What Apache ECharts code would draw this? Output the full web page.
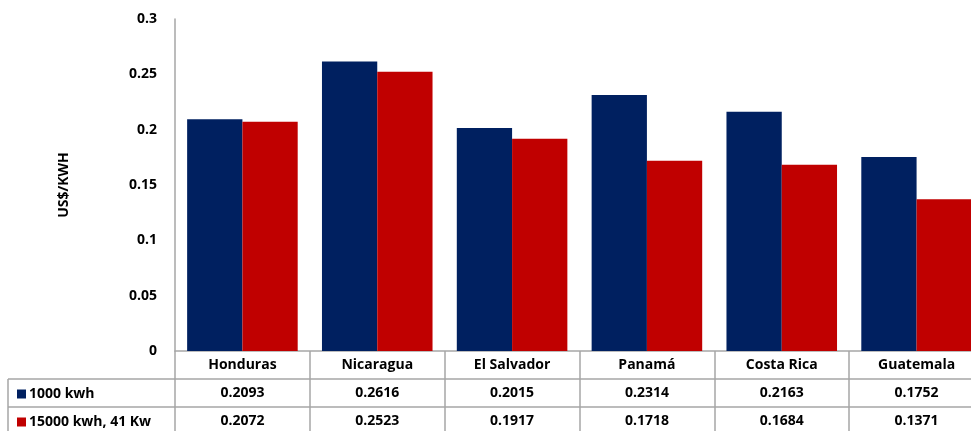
<!DOCTYPE html>
<html>
<head>
<meta charset="utf-8">
<script src="https://cdn.jsdelivr.net/npm/echarts@6/dist/echarts.min.js"></script>
<style>
html,body{margin:0;padding:0;background:#fff;}
#chart{width:971px;height:431px;}
</style>
</head>
<body>
<div id="chart"></div>
<script>
const categories = ['Honduras', 'Nicaragua', 'El Salvador', 'Panamá', 'Costa Rica', 'Guatemala'];
const seriesNames = ['1000 kwh', '15000 kwh, 41 Kw'];
const values1000 = [0.2093, 0.2616, 0.2015, 0.2314, 0.2163, 0.1752];
const values15000 = [0.2072, 0.2523, 0.1917, 0.1718, 0.1684, 0.1371];
const yTicks = { min: 0, max: 0.3, interval: 0.05 };

const FONT = 'Open Sans';
const GRID = '#a6a6a6';
const chart = echarts.init(document.getElementById('chart'));
const labelStyle = { color: '#000', fontFamily: FONT, fontWeight: 'bold', fontSize: 14 };

function legendFor(name, top) {
  return {
    orient: 'horizontal', left: 17, top: top, padding: 0,
    itemWidth: 9, itemHeight: 9, icon: 'rect',
    textStyle: Object.assign({}, labelStyle, { padding: [0, 0, 0, -2] }),
    data: [name]
  };
}

chart.setOption({
  animation: false,
  textStyle: { fontFamily: FONT },
  grid: { left: 175, width: 809, top: 19, bottom: 80, containLabel: false, outerBoundsMode: 'none' },
  legend: [legendFor(seriesNames[0], 387), legendFor(seriesNames[1], 415)],
  xAxis: [
    {
      type: 'category', data: categories, position: 'bottom',
      axisLine: { show: true, lineStyle: { color: GRID, width: 1.5 } },
      axisTick: { show: true, length: 80, lineStyle: { color: GRID, width: 1.5 } },
      axisLabel: Object.assign({ margin: 7, interval: 0 }, labelStyle)
    },
    {
      type: 'category', data: values1000.map(v => v.toFixed(4)), position: 'bottom', offset: 28,
      axisLine: { show: true, lineStyle: { color: GRID, width: 1.5 } },
      axisTick: { show: false },
      axisLabel: Object.assign({ margin: 7, interval: 0 }, labelStyle)
    },
    {
      type: 'category', data: values15000.map(v => v.toFixed(4)), position: 'bottom', offset: 56,
      axisLine: { show: true, lineStyle: { color: GRID, width: 1.5 } },
      axisTick: { show: false },
      axisLabel: Object.assign({ margin: 7, interval: 0 }, labelStyle)
    }
  ],
  yAxis: {
    type: 'value', min: yTicks.min, max: yTicks.max, interval: yTicks.interval,
    name: 'US$/KWH', nameLocation: 'middle', nameGap: 104, nameRotate: 90,
    nameTextStyle: { color: '#000', fontFamily: FONT, fontWeight: 'bold', fontSize: 14 },
    axisLine: { show: true, lineStyle: { color: GRID, width: 1.5 } },
    axisTick: { show: false },
    splitLine: { show: false },
    axisLabel: Object.assign({ margin: 18 }, labelStyle)
  },
  series: [
    {
      name: seriesNames[0], type: 'bar', data: values1000, xAxisIndex: 0,
      itemStyle: { color: '#002060' }, barGap: '0%', barCategoryGap: '18%'
    },
    {
      name: seriesNames[1], type: 'bar', data: values15000, xAxisIndex: 0,
      itemStyle: { color: '#C00000' }, barGap: '0%', barCategoryGap: '18%'
    }
  ],
  graphic: [
    { type: 'line', shape: { x1: 8, y1: 379, x2: 175, y2: 379 }, style: { stroke: GRID, lineWidth: 1.5 } },
    { type: 'line', shape: { x1: 8, y1: 407, x2: 175, y2: 407 }, style: { stroke: GRID, lineWidth: 1.5 } },
    { type: 'line', shape: { x1: 8, y1: 379, x2: 8, y2: 431 }, style: { stroke: GRID, lineWidth: 1.5 } }
  ]
});
</script>
</body>
</html>
